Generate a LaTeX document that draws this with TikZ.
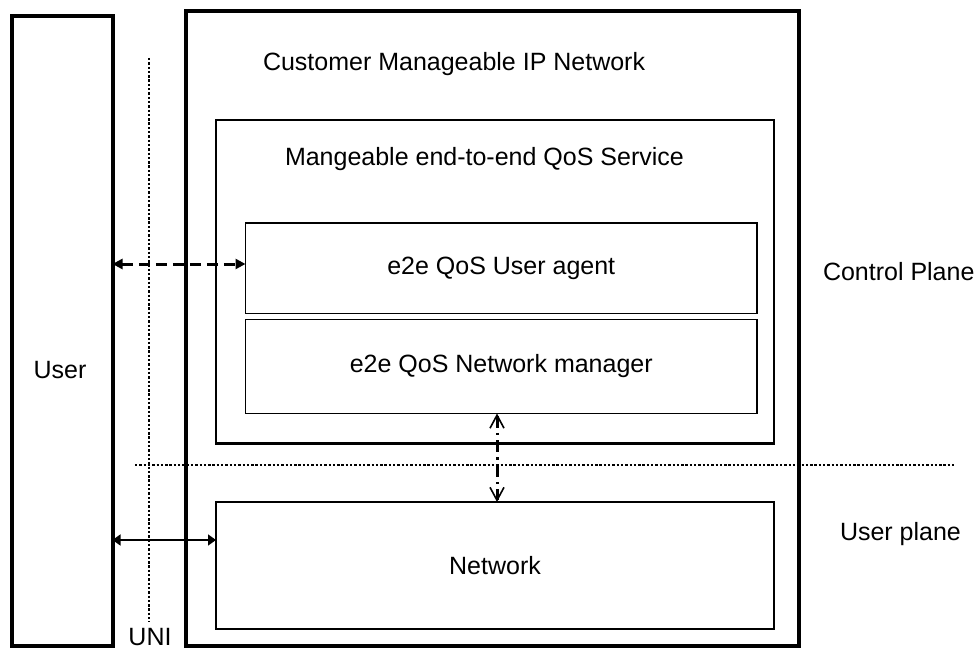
\documentclass[tikz,border=0pt]{standalone}
\usepackage{fontspec}
\setmainfont{Liberation Sans}
\usetikzlibrary{arrows.meta}
\begin{document}
\begin{tikzpicture}[x=1pt,y=-1pt,
  every node/.style={font=\fontsize{25}{30}\selectfont, inner sep=0pt, outer sep=0pt},
  heavybox/.style={draw, rectangle, line width=4pt},
  midbox/.style={draw, rectangle, line width=2.5pt},
  thinbox/.style={draw, rectangle, line width=1.5pt},
  boundary/.style={line width=2.6pt, dash pattern=on 2.4pt off 1.9pt},
  ctrlarrow/.style={line width=3pt, dash pattern=on 11pt off 6pt,
    {Triangle[length=10pt,width=10pt]}-{Triangle[length=10pt,width=10pt]}},
  dataarrow/.style={line width=1.5pt,
    {Triangle[length=8pt,width=11pt]}-{Triangle[length=8pt,width=11pt]}},
  mgmtarrow/.style={line width=3pt, dash pattern=on 12pt off 5pt on 2.5pt off 5pt,
    {Straight Barb[length=13pt,width=14pt,line width=1.6pt]}-{Straight Barb[length=13pt,width=14pt,line width=1.6pt]}}
]
\useasboundingbox (0,0) rectangle (979,650);

% boxes
\node[heavybox, minimum width=101pt, minimum height=629.5pt] (user) at (62,331.25) {};
\node[heavybox, minimum width=613pt, minimum height=635pt] (cmip) at (492.5,328.5) {};
\node[midbox, minimum width=558pt, minimum height=323.5pt] (svc) at (495,281.75) {};
\node[thinbox, minimum width=511.5pt, minimum height=90.5pt] (ua) at (501.25,268.25) {e2e QoS User agent};
\node[thinbox, minimum width=511.5pt, minimum height=94pt] (nm) at (501.25,366.5) {e2e QoS Network manager};
\node[midbox, minimum width=558pt, minimum height=127pt] (net) at (495,565.5) {Network};

% labels
\node[anchor=base west] (cmiplbl) at (263,71) {Customer Manageable IP Network};
\node[anchor=base west] (svclbl) at (285,165) {Mangeable end-to-end QoS Service};
\node[anchor=base] (userlbl) at (60,378) {User};
\node[anchor=base] (unilbl) at (150,645) {UNI};
\node[anchor=base west] (cplbl) at (823,280) {Control Plane};
\node[anchor=base west] (uplbl) at (840,540) {User plane};

% UNI and plane boundaries
\coordinate (unitop) at (149,58);
\coordinate (unibot) at (149,622);
\coordinate (planel) at (135,465);
\coordinate (planer) at (955,465);
\draw[boundary] (unitop) -- (unibot);
\draw[boundary] (planel) -- (planer);

% connectors
\coordinate (ctly) at (0,264);
\coordinate (datay) at (0,540);
\coordinate (mgmtx) at (497,0);
\draw[ctrlarrow] (user.east |- ctly) -- (ua.west |- ctly);
\draw[dataarrow] (user.east |- datay) -- (net.west |- datay);
\draw[mgmtarrow] (nm.south -| mgmtx) -- (net.north -| mgmtx);
\end{tikzpicture}
\end{document}
